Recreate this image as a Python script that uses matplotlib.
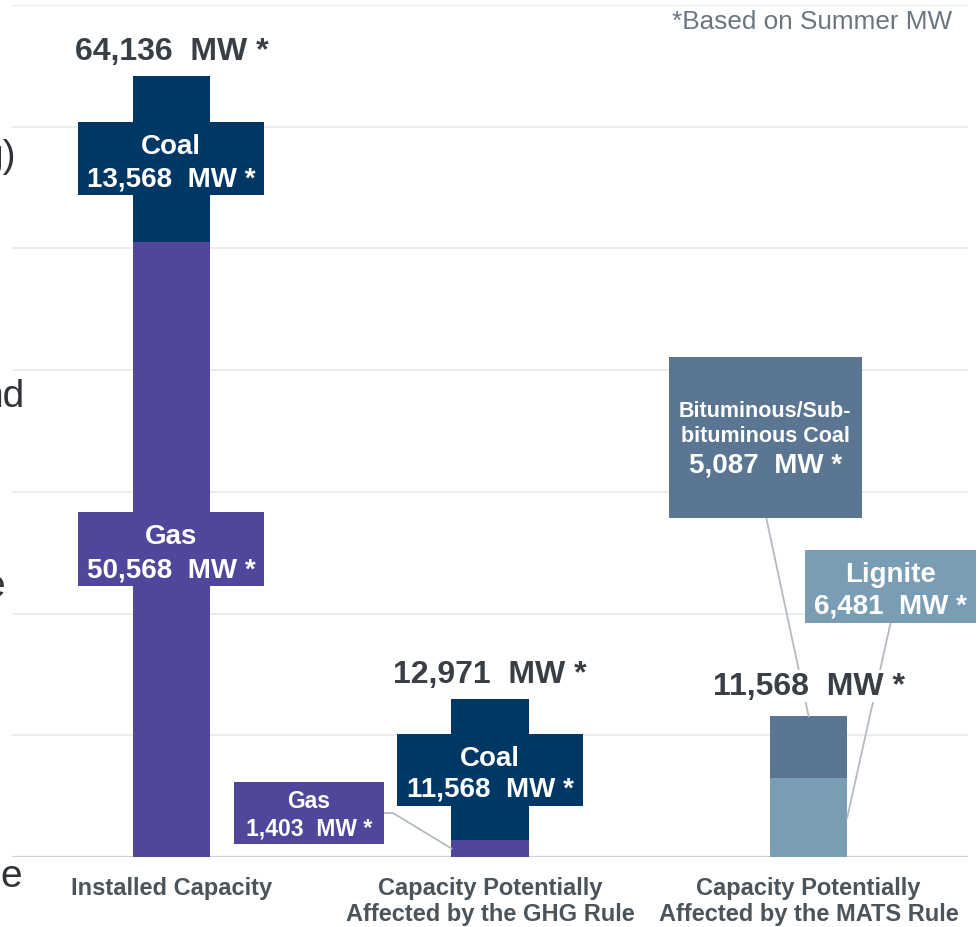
import matplotlib
matplotlib.use("Agg")
import matplotlib.pyplot as plt
from matplotlib.patches import Rectangle

plt.rcParams['font.family'] = ['Liberation Sans', 'DejaVu Sans']

# ---------------- data ----------------
categories = ["Installed Capacity",
              "Capacity Potentially\nAffected by the GHG Rule",
              "Capacity Potentially\nAffected by the MATS Rule"]
gas_mw = [50568, 1403, 0]
coal_mw = [13568, 11568, 0]
lignite_mw = [0, 0, 6481]
bituminous_mw = [0, 0, 5087]
y_ticks = [0, 10000, 20000, 30000, 40000, 50000, 60000, 70000]

# ---------------- style ----------------
C_GAS = "#50469B"
C_COAL = "#003764"
C_LIG = "#7A9DB6"
C_BIT = "#5A7692"
C_TOTAL = "#3A3F45"
C_CAT = "#4B535B"
C_LEAD = "#B3BAC1"
BAR_W = 0.242

fig = plt.figure(figsize=(9.8, 9.28), dpi=100)
W, H = 980, 928
ax = fig.add_axes([12 / W, (H - 858) / H, (968 - 12) / W, (858 - 6) / H])
ax.set_xlim(-0.5, 2.5)
ax.set_ylim(0, 70000)

x = list(range(len(categories)))
# stacked bars
ax.bar(x, gas_mw, width=BAR_W, color=C_GAS, zorder=3)
bot = gas_mw
ax.bar(x, coal_mw, width=BAR_W, bottom=bot, color=C_COAL, zorder=3)
bot2 = [a + b for a, b in zip(gas_mw, coal_mw)]
ax.bar(x, lignite_mw, width=BAR_W, bottom=bot2, color=C_LIG, zorder=3)
bot3 = [a + b for a, b in zip(bot2, lignite_mw)]
ax.bar(x, bituminous_mw, width=BAR_W, bottom=bot3, color=C_BIT, zorder=3)
totals = [a + b for a, b in zip(bot3, bituminous_mw)]

# grid
for yt in y_ticks:
    if yt == 0:
        ax.axhline(yt, color="#CDD1D6", lw=1.6, zorder=2)
    else:
        ax.axhline(yt, color="#E8EAEC", lw=1.2, zorder=1)
for s in ax.spines.values():
    s.set_visible(False)
ax.set_yticks([])
ax.set_xticks(x)
ax.set_xticklabels(categories, fontsize=17, fontweight="bold", color=C_CAT,
                   linespacing=1.15)
ax.tick_params(axis="x", length=0, pad=14)


def fmt(v):
    return f"{v:,}  MW *"


def box(xc, yc, w, h, color, lines):
    ax.add_patch(Rectangle((xc - w / 2, yc - h / 2), w, h, facecolor=color,
                           edgecolor="none", zorder=5, clip_on=False))
    for txt, size, dy in lines:
        ax.annotate(txt, (xc, yc), xytext=(0, dy), textcoords="offset pixels",
                    ha="center", va="baseline", fontsize=size, fontweight="bold",
                    color="white", zorder=6, annotation_clip=False)


px_y = 70000 / 852.0  # data units per pixel vertically
BOX_W = 0.584

# Installed capacity: coal & gas
box(x[0], gas_mw[0] + coal_mw[0] / 2, BOX_W, 73 * px_y, C_COAL,
    [("Coal", 20, 5.5), (fmt(coal_mw[0]), 20, -26.5)])
box(x[0], gas_mw[0] / 2, BOX_W, 74 * px_y, C_GAS,
    [("Gas", 20, 6), (fmt(gas_mw[0]), 20, -27)])

# GHG: coal & gas
box(x[1], gas_mw[1] + coal_mw[1] / 2, BOX_W, 72 * px_y, C_COAL,
    [("Coal", 20, 4.8), (fmt(coal_mw[1]), 20, -26)])
gxc, gyc = x[1] - 0.568, 3615
box(gxc, gyc, 0.471, 62 * px_y, C_GAS,
    [("Gas", 16.5, 5.7), (fmt(gas_mw[1]), 16.5, -21)])
ax.plot([gxc + 0.471 / 2, gxc + 0.471 / 2 + 0.028, x[1] - BAR_W / 2],
        [gyc, gyc, gas_mw[1] / 2], color=C_LEAD, lw=1.3, zorder=4)

# MATS: bituminous & lignite
bxc, byc = x[2] - 0.136, 34466
ax.plot([bxc + 0.003, x[2]], [byc - 161 * px_y / 2, totals[2]],
        color=C_LEAD, lw=1.3, zorder=4)
box(bxc, byc, 0.606, 161 * px_y, C_BIT,
    [("Bituminous/Sub-", 15.5, 21.2), ("bituminous Coal", 15.5, -3.2),
     (fmt(bituminous_mw[2]), 20, -34.2)])
lxc, lyc = x[2] + 0.257, 22225
ax.plot([lxc, x[2] + BAR_W / 2], [lyc - 73 * px_y / 2, lignite_mw[2] / 2],
        color=C_LEAD, lw=1.3, zorder=4)
box(lxc, lyc, 0.537, 73 * px_y, C_LIG,
    [("Lignite", 20, 5.8), (fmt(lignite_mw[2]), 20, -25.8)])

# totals
tot_dy = [17.4, 16.8, 22]
for i, t in enumerate(totals):
    ax.annotate(fmt(t), (x[i], t), xytext=(0, tot_dy[i]), textcoords="offset pixels",
                ha="center", va="baseline", fontsize=23, fontweight="bold",
                color=C_TOTAL, zorder=7,
                bbox=dict(facecolor="white", edgecolor="none", pad=1))

# note
fig.text(952 / W, 1 - 29 / H, "*Based on Summer MW", ha="right", va="baseline",
         fontsize=18.8, color="#6C7680")

# cut-off text fragments at the left edge (as in the reference)
for txt, xr, yb in [("g)", 16, 167), ("nd", 25, 407), ("e", 5, 597), ("e", 22, 887)]:
    fig.text(xr / W, 1 - yb / H, txt, ha="right", va="baseline", fontsize=28,
             color="#303438")

fig.savefig("out.png", dpi=100)
